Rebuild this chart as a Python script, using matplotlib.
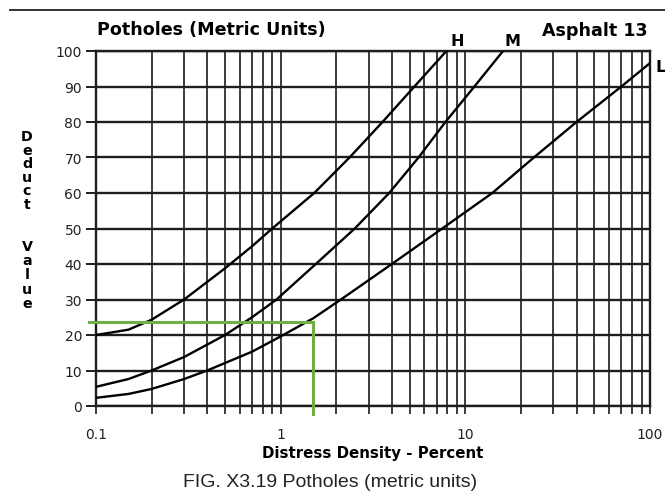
import matplotlib
matplotlib.use('Agg')
import matplotlib.pyplot as plt
from matplotlib.lines import Line2D
import numpy as np

# values (distress density %, deduct value)
h_density = [0.1, 0.15, 0.2, 0.3, 0.5, 0.7, 0.9, 1.52, 2.36, 3.56, 5.3, 7.9]
h_deduct = [20, 21.5, 24.3, 30, 38.8, 45, 50, 60, 70, 80, 90, 100]

m_density = [0.1, 0.15, 0.2, 0.3, 0.5, 0.7, 0.95, 1.55, 2.52, 3.87, 5.58, 7.8, 11.2, 16]
m_deduct = [5.4, 7.6, 10, 13.8, 20, 25, 30, 40, 50, 60, 70, 80, 90, 100]

l_density = [0.1, 0.15, 0.2, 0.3, 0.4, 0.7, 1.0, 1.5, 2.12, 4.0, 7.5, 14, 23.5, 40, 70, 100]
l_deduct = [2.3, 3.4, 4.8, 7.6, 10, 15.3, 19.6, 24.7, 30, 40, 50, 60, 70, 80, 90, 96.6]

# example reading drawn in green
example_density = 1.5
example_deduct = 23.6

x_major = [0.1, 1, 10, 100]
x_major_labels = ['0.1', '1', '10', '100']
y_ticks = list(range(0, 101, 10))

W, H = 665, 502
fig = plt.figure(figsize=(W / 100, H / 100), dpi=100)
ax = fig.add_axes([96 / W, 1 - 407 / H, (650 - 96) / W, (407 - 52) / H])

ax.set_xscale('log')
ax.set_xlim(0.1, 100)
ax.set_ylim(0, 100)

# grid
x_minor = [m * d for d in [0.1, 1, 10] for m in range(2, 10)]
ax.set_xticks(x_major)
ax.set_xticklabels(x_major_labels)
ax.set_xticks(x_minor, minor=True)
ax.set_xticklabels([], minor=True)
ax.set_yticks(y_ticks)
for xv in x_major + x_minor:
    ax.axvline(xv, color='#3c3c3c', lw=1.4, zorder=1)
for yv in y_ticks:
    ax.axhline(yv, color='#1e1e1e', lw=1.7, zorder=1)

ax.tick_params(axis='x', which='both', direction='out', length=6, width=1.4,
               color='#3c3c3c', pad=9, labelsize=10, labelcolor='#222222')
ax.tick_params(axis='y', which='both', direction='out', length=7, width=1.4,
               color='#1e1e1e', pad=3, labelsize=10, labelcolor='#222222')
for s in ax.spines.values():
    s.set_color('#1e1e1e')
    s.set_linewidth(1.7)

# curves
for xs, ys in [(h_density, h_deduct), (m_density, m_deduct), (l_density, l_deduct)]:
    ax.plot(xs, ys, color='black', lw=1.7, zorder=3,
            solid_capstyle='round', solid_joinstyle='round')

# green example lines
green = '#70ad47'
ax.plot([0.092, example_density], [example_deduct, example_deduct],
        color=green, lw=2.2, zorder=4, clip_on=False)
ax.plot([example_density, example_density], [example_deduct, -2.2],
        color=green, lw=2.2, zorder=4, clip_on=False)

# texts
ax.set_xlabel('Distress Density - Percent', fontsize=10.8, fontweight='bold',
              labelpad=3)
fig.text(97 / W, 1 - 30 / H, 'Potholes (Metric Units)', fontsize=12.6,
         fontweight='bold', ha='left', va='center')
fig.text(648 / W, 1 - 31 / H, 'Asphalt 13', fontsize=12.6,
         fontweight='bold', ha='right', va='center')
fig.text(457 / W, 1 - 41 / H, 'H', fontsize=11.5, fontweight='bold',
         ha='center', va='center')
fig.text(512 / W, 1 - 41 / H, 'M', fontsize=11.5, fontweight='bold',
         ha='center', va='center')
fig.text(661 / W, 1 - 67 / H, 'L', fontsize=11.5, fontweight='bold',
         ha='center', va='center')

# stacked y label
for i, ch in enumerate('Deduct'):
    fig.text(27 / W, 1 - (137 + 13.6 * i) / H, ch, fontsize=10.3,
             fontweight='bold', ha='center', va='center')
for i, ch in enumerate('Value'):
    fig.text(27 / W, 1 - (247 + 14.2 * i) / H, ch, fontsize=10.3,
             fontweight='bold', ha='center', va='center')

fig.text(330 / W, 1 - 483 / H, 'FIG. X3.19 Potholes (metric units)',
         fontsize=14, family='Liberation Sans', color='#222222',
         ha='center', va='center')

fig.add_artist(Line2D([10 / W, 1], [1 - 10.7 / H, 1 - 10.7 / H],
                      color='#222222', lw=1.3, transform=fig.transFigure))

fig.savefig('out.png', dpi=100)
